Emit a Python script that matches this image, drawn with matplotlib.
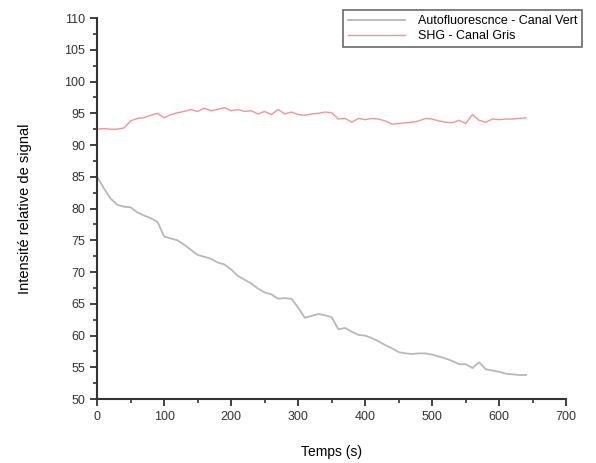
import numpy as np
import matplotlib.pyplot as plt
from matplotlib.ticker import MultipleLocator

plt.rcParams['font.family'] = ['Liberation Sans', 'DejaVu Sans']

temps = np.arange(0, 650, 10)

autofluo = [85.0, 83.2, 81.6, 80.6, 80.3, 80.2, 79.4, 78.9, 78.5, 77.9,
            75.6, 75.3, 75.0, 74.3, 73.5, 72.7, 72.4, 72.1, 71.5, 71.2,
            70.4, 69.4, 68.8, 68.2, 67.4, 66.8, 66.5, 65.8, 65.9, 65.8,
            64.4, 62.8, 63.1, 63.4, 63.2, 62.9, 61.0, 61.2, 60.6, 60.1,
            60.0, 59.6, 59.1, 58.5, 58.0, 57.4, 57.2, 57.1, 57.2, 57.2,
            57.0, 56.7, 56.4, 56.0, 55.5, 55.5, 54.9, 55.8, 54.7, 54.5,
            54.3, 54.0, 53.9, 53.8, 53.8]

shg = [92.5, 92.6, 92.5, 92.5, 92.7, 93.8, 94.2, 94.3, 94.7, 95.0,
       94.3, 94.8, 95.1, 95.3, 95.6, 95.3, 95.8, 95.4, 95.6, 95.9,
       95.4, 95.6, 95.3, 95.4, 94.9, 95.3, 94.8, 95.6, 94.9, 95.2,
       94.8, 94.7, 94.9, 95.0, 95.2, 95.1, 94.1, 94.2, 93.6, 94.2,
       94.0, 94.2, 94.1, 93.8, 93.3, 93.4, 93.5, 93.6, 93.8, 94.2,
       94.1, 93.8, 93.6, 93.5, 93.9, 93.4, 94.8, 93.9, 93.6, 94.1,
       94.0, 94.1, 94.1, 94.2, 94.3]

fig = plt.figure(figsize=(5.96, 4.63), dpi=100)
fig.patch.set_facecolor('white')
ax = fig.add_axes([0.163, 0.138, 0.787, 0.823])

ax.plot(temps, autofluo, color='#b8b8b8', lw=1.3,
        label='Autofluorescnce - Canal Vert')
ax.plot(temps, shg, color='#f29696', lw=1.0, label='SHG - Canal Gris')

ax.set_xlim(0, 700)
ax.set_ylim(50, 110)
ax.xaxis.set_major_locator(MultipleLocator(100))
ax.xaxis.set_minor_locator(MultipleLocator(50))
ax.yaxis.set_major_locator(MultipleLocator(5))
ax.yaxis.set_minor_locator(MultipleLocator(2.5))

for s in ['top', 'right']:
    ax.spines[s].set_visible(False)
for s in ['left', 'bottom']:
    ax.spines[s].set_linewidth(1.5)
    ax.spines[s].set_color('#333333')

ax.tick_params(which='major', length=5, width=1.3, labelsize=9,
               colors='#333333', direction='out')
ax.tick_params(which='minor', length=3, width=1.2, colors='#333333',
               direction='out')

ax.set_xlabel('Temps (s)', fontsize=10, labelpad=16)
ax.set_ylabel('Intensité relative de signal', fontsize=10.5, labelpad=23)

leg = ax.legend(loc='upper right', bbox_to_anchor=(0.977, 0.978),
                bbox_transform=fig.transFigure, fontsize=9,
                frameon=True, fancybox=False, borderpad=0.4,
                handlelength=4.6, handletextpad=1.0,
                labelspacing=0.25, borderaxespad=0)
leg.get_frame().set_edgecolor('#444444')
leg.get_frame().set_linewidth(1.2)

fig.savefig('out.png', dpi=100)
